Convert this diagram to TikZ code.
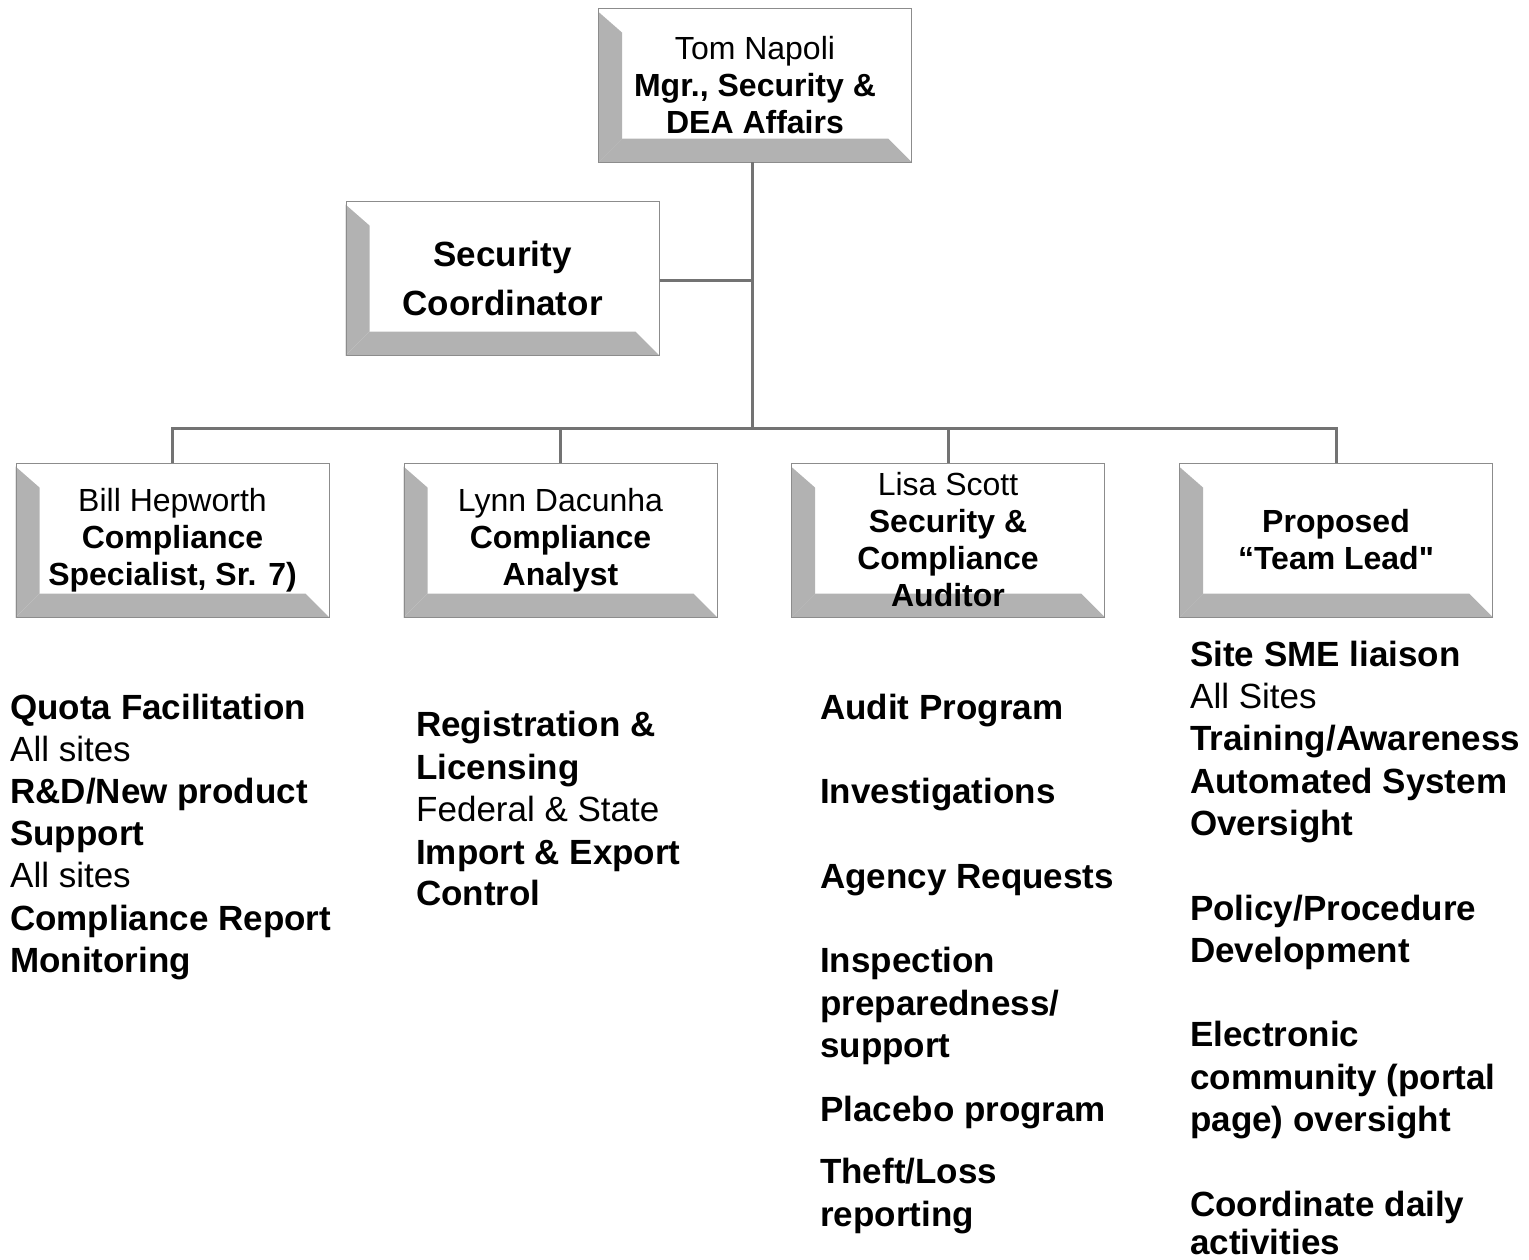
\documentclass[tikz,border=0pt]{standalone}
\usepackage{fontspec}
\setmainfont{Liberation Sans}
\usetikzlibrary{calc}
\pgfdeclarelayer{background}
\pgfsetlayers{background,main}
\tikzset{
  box/.style={draw=black!45, line width=1, minimum width=313, minimum height=154, inner sep=0, align=center, font=\fontsize{32}{37}\selectfont},
  bevel/.style={fill=black!30, draw=none},
  conn/.style={draw=black!55, line width=3},
  lb/.style={anchor=base west, inner sep=0, font=\fontsize{35}{42}\selectfont\bfseries},
  lr/.style={anchor=base west, inner sep=0, font=\fontsize{35}{42}\selectfont},
}
\newcommand\bevels[1]{%
  \begin{pgfonlayer}{background}
  \fill[bevel] ($(#1.north west)+(0,4)$) -- ($(#1.north west)+(24,25)$) -- ($(#1.south west)+(24,-24)$) -- (#1.south west) -- cycle;
  \fill[bevel] (#1.south west) -- ($(#1.south west)+(24,-24)$) -- ($(#1.south east)+(-24,-24)$) -- (#1.south east) -- cycle;
  \end{pgfonlayer}
}
\begin{document}
\begin{tikzpicture}[x=1pt, y=-1pt]
\useasboundingbox (0,0) rectangle (1529,1259);
% boxes
\node[box] (top) at (755,85) {Tom Napoli\\ \textbf{Mgr., Security \&}\\ \textbf{DEA Affairs}};
\node[box, font=\fontsize{35}{49}\selectfont] (sc) at (502.5,278) {\textbf{Security}\\ \textbf{Coordinator}};
\node[box] (b1) at (172.5,540) {\raisebox{-4pt}{}Bill Hepworth\\ \textbf{Compliance}\\ \textbf{Specialist, Sr. 7)}};
\node[box] (b2) at (560.5,540) {Lynn Dacunha\\ \textbf{Compliance}\\ \textbf{Analyst}};
\node[box] (b3) at (948,540) {Lisa Scott\\ \textbf{Security \&}\\ \textbf{Compliance}\\ \textbf{Auditor}};
\node[box] (b4) at (1336,540) {\textbf{Proposed}\\ \textbf{``Team Lead\textquotedbl}};
\bevels{top}\bevels{sc}\bevels{b1}\bevels{b2}\bevels{b3}\bevels{b4}
% connectors
\coordinate (bus) at (752,428);
\coordinate (j1) at (752,280);
\draw[conn] (752,162) -- (bus);
\draw[conn] (sc.east |- j1) -- (j1);
\draw[conn] (b1.north) |- (b4.north |- bus) -- (b4.north);
\draw[conn] (b2.north) -- (b2.north |- bus);
\draw[conn] (b3.north) -- (b3.north |- bus);
% column 1
\node[lb] (c1a) at (10,719) {Quota Facilitation};
\node[lr] (c1b) at (10,761) {All sites};
\node[lb] (c1c) at (10,803) {R\&D/New product};
\node[lb] (c1d) at (10,845) {Support};
\node[lr] (c1e) at (10,887) {All sites};
\node[lb] (c1f) at (10,930) {Compliance Report};
\node[lb] (c1g) at (10,972) {Monitoring};
% column 2
\node[lb] (c2a) at (416,736) {Registration \&};
\node[lb] (c2b) at (416,779) {Licensing};
\node[lr] (c2c) at (416,821) {Federal \& State};
\node[lb] (c2d) at (416,864) {Import \& Export};
\node[lb] (c2e) at (416,905) {Control};
% column 3
\node[lb] (c3a) at (820,719) {Audit Program};
\node[lb] (c3b) at (820,803) {Investigations};
\node[lb] (c3c) at (820,888) {Agency Requests};
\node[lb] (c3d) at (820,972) {Inspection};
\node[lb] (c3e) at (820,1015) {preparedness/};
\node[lb] (c3f) at (820,1057) {support};
\node[lb] (c3g) at (820,1121) {Placebo program};
\node[lb] (c3h) at (820,1183) {Theft/Loss};
\node[lb] (c3i) at (820,1226) {reporting};
% column 4
\node[lb] (c4a) at (1190,666) {Site SME liaison};
\node[lr] (c4b) at (1190,708) {All Sites};
\node[lb] (c4c) at (1190,750) {Training/Awareness};
\node[lb] (c4d) at (1190,793) {Automated System};
\node[lb] (c4e) at (1190,835) {Oversight};
\node[lb] (c4f) at (1190,920) {Policy/Procedure};
\node[lb] (c4g) at (1190,962) {Development};
\node[lb] (c4h) at (1190,1046) {Electronic};
\node[lb] (c4i) at (1190,1089) {community (portal};
\node[lb] (c4j) at (1190,1131) {page) oversight};
\node[lb] (c4k) at (1190,1216) {Coordinate daily};
\node[lb] (c4l) at (1190,1254) {activities};
\end{tikzpicture}
\end{document}
